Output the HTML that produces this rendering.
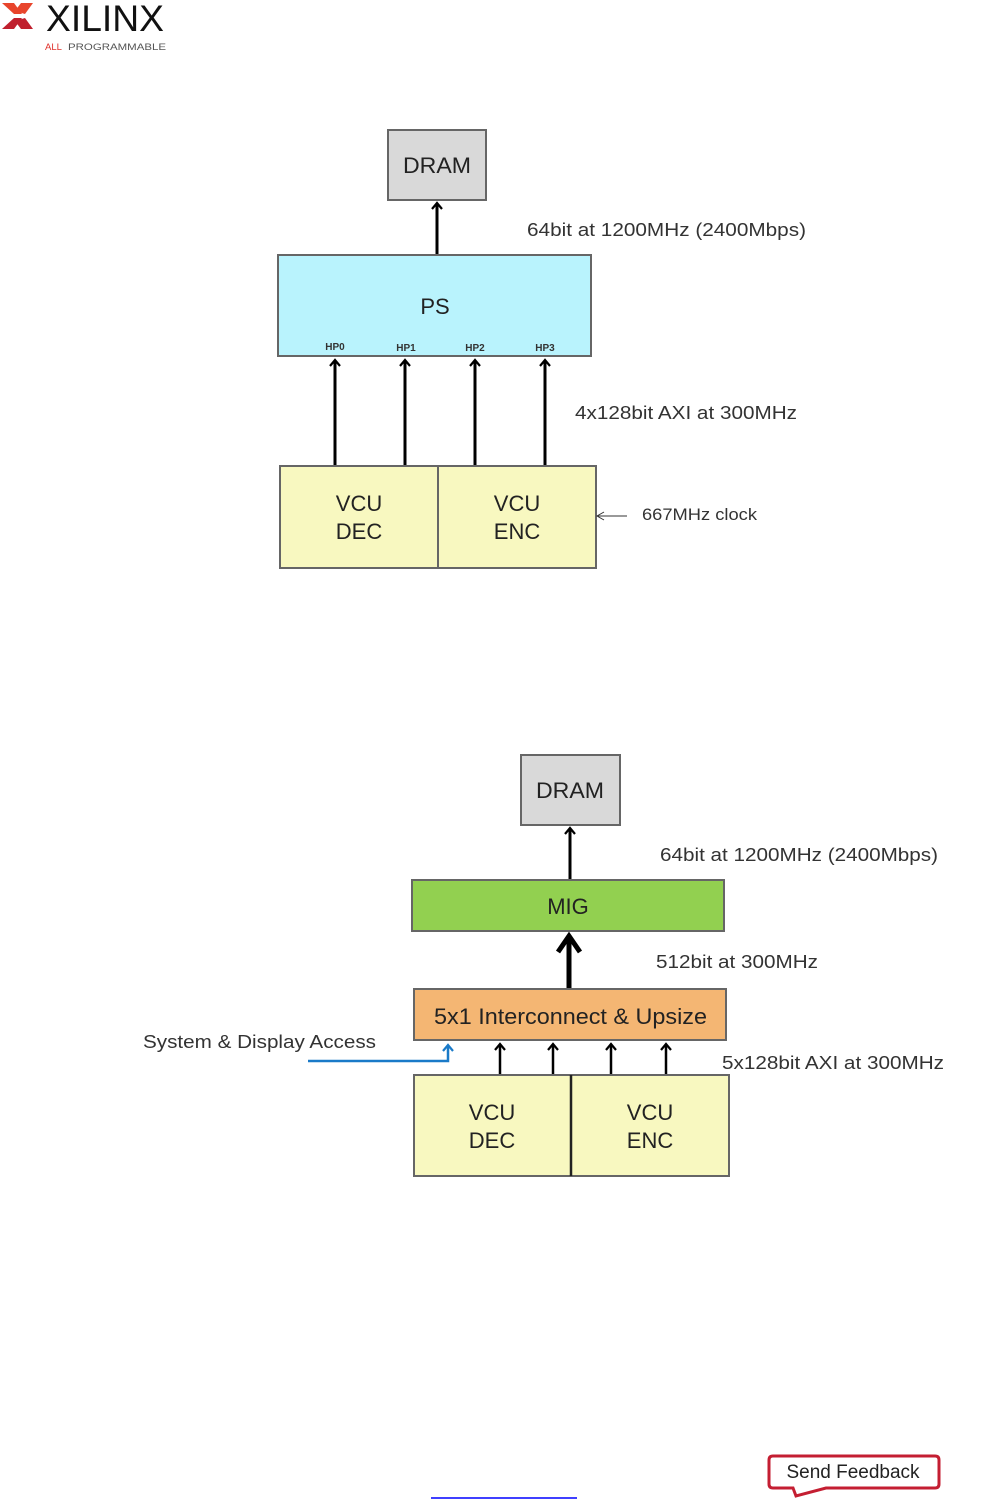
<!DOCTYPE html>
<html><head><meta charset="utf-8"><style>
html,body{margin:0;padding:0;background:#fff;}
svg{display:block;}
text{font-family:"Liberation Sans",sans-serif;}
</style></head><body>
<svg width="1008" height="1510" viewBox="0 0 1008 1510" xmlns="http://www.w3.org/2000/svg">
<defs>
<marker id="ah" markerWidth="12" markerHeight="12" refX="10" refY="6" orient="auto" markerUnits="userSpaceOnUse" viewBox="0 0 12 12">
<path d="M4,1 L10,6 L4,11" fill="none" stroke="#000" stroke-width="2.2"/></marker>
<marker id="ahb" markerWidth="12" markerHeight="12" refX="10" refY="6" orient="auto" markerUnits="userSpaceOnUse" viewBox="0 0 12 12">
<path d="M4,1 L10,6 L4,11" fill="none" stroke="#1a7ac8" stroke-width="2.2"/></marker>
</defs>
<!-- logo -->
<polygon points="2,3 14,3 22,14 14,14" fill="#e8452c"/>
<polygon points="2,29 14,29 22,18 14,18" fill="#c0202e"/>
<polygon points="33,3 21,3 15,11 25,14" fill="#e8452c"/>
<polygon points="33,29 21,29 15,21 25,18" fill="#c0202e"/>
<text x="46" y="31" font-size="37" fill="#111" textLength="118" lengthAdjust="spacingAndGlyphs">XILINX</text>
<text x="45" y="50" font-size="9.5" fill="#e0302a">ALL</text>
<text x="68" y="50" font-size="9.5" fill="#555" textLength="98" lengthAdjust="spacingAndGlyphs">PROGRAMMABLE</text>

<!-- top diagram -->
<rect x="388" y="130" width="98" height="70" fill="#d9d9d9" stroke="#666" stroke-width="2"/>
<text x="403" y="173" font-size="22" fill="#222" textLength="68" lengthAdjust="spacingAndGlyphs">DRAM</text>
<line x1="437" y1="255" x2="437" y2="203" stroke="#000" stroke-width="3" marker-end="url(#ah)"/>
<text x="527" y="236" font-size="18" fill="#333" textLength="279" lengthAdjust="spacingAndGlyphs">64bit at 1200MHz (2400Mbps)</text>
<rect x="278" y="255" width="313" height="101" fill="#b9f3fd" stroke="#666" stroke-width="2"/>
<text x="435" y="314" font-size="22" text-anchor="middle" fill="#222">PS</text>
<g font-size="10" font-weight="bold" fill="#333" text-anchor="middle">
<text x="335" y="350">HP0</text><text x="406" y="351">HP1</text><text x="475" y="351">HP2</text><text x="545" y="351">HP3</text></g>
<g stroke="#000" stroke-width="3">
<line x1="335" y1="466" x2="335" y2="360" marker-end="url(#ah)"/>
<line x1="405" y1="466" x2="405" y2="360" marker-end="url(#ah)"/>
<line x1="475" y1="466" x2="475" y2="360" marker-end="url(#ah)"/>
<line x1="545" y1="466" x2="545" y2="360" marker-end="url(#ah)"/>
</g>
<text x="575" y="419" font-size="18" fill="#333" textLength="222" lengthAdjust="spacingAndGlyphs">4x128bit AXI at 300MHz</text>
<rect x="280" y="466" width="158" height="102" fill="#f8f8c0" stroke="#666" stroke-width="2"/>
<rect x="438" y="466" width="158" height="102" fill="#f8f8c0" stroke="#666" stroke-width="2"/>
<g font-size="22" fill="#222" text-anchor="middle">
<text x="359" y="511">VCU</text><text x="359" y="539">DEC</text>
<text x="517" y="511">VCU</text><text x="517" y="539">ENC</text></g>
<line x1="627" y1="516" x2="598" y2="516" stroke="#333" stroke-width="1"/>
<path d="M604,512 L597,516 L604,520" fill="none" stroke="#333" stroke-width="1"/>
<text x="642" y="520" font-size="17" fill="#333" textLength="115" lengthAdjust="spacingAndGlyphs">667MHz clock</text>

<!-- bottom diagram -->
<rect x="521" y="755" width="99" height="70" fill="#d9d9d9" stroke="#666" stroke-width="2"/>
<text x="536" y="798" font-size="22" fill="#222" textLength="68" lengthAdjust="spacingAndGlyphs">DRAM</text>
<line x1="570" y1="880" x2="570" y2="828" stroke="#000" stroke-width="3" marker-end="url(#ah)"/>
<text x="660" y="861" font-size="18" fill="#333" textLength="278" lengthAdjust="spacingAndGlyphs">64bit at 1200MHz (2400Mbps)</text>
<rect x="412" y="880" width="312" height="51" fill="#92d050" stroke="#666" stroke-width="2"/>
<text x="568" y="914" font-size="22" text-anchor="middle" fill="#222">MIG</text>
<line x1="569" y1="989" x2="569" y2="937" stroke="#000" stroke-width="5"/>
<path d="M558,952 L569,936 L580,952" fill="none" stroke="#000" stroke-width="5"/>
<text x="656" y="968" font-size="18" fill="#333" textLength="162" lengthAdjust="spacingAndGlyphs">512bit at 300MHz</text>
<rect x="414" y="989" width="312" height="51" fill="#f4b673" stroke="#666" stroke-width="2"/>
<text x="434" y="1024" font-size="22" fill="#222" textLength="273" lengthAdjust="spacingAndGlyphs">5x1 Interconnect &amp; Upsize</text>
<g stroke="#000" stroke-width="2.5">
<line x1="500" y1="1075" x2="500" y2="1044" marker-end="url(#ah)"/>
<line x1="553" y1="1075" x2="553" y2="1044" marker-end="url(#ah)"/>
<line x1="611" y1="1075" x2="611" y2="1044" marker-end="url(#ah)"/>
<line x1="666" y1="1075" x2="666" y2="1044" marker-end="url(#ah)"/>
</g>
<polyline points="308,1061 448,1061 448,1045" fill="none" stroke="#1a7ac8" stroke-width="2.5" marker-end="url(#ahb)"/>
<text x="143" y="1048" font-size="18" fill="#333" textLength="233" lengthAdjust="spacingAndGlyphs">System &amp; Display Access</text>
<text x="722" y="1069" font-size="18" fill="#333" textLength="222" lengthAdjust="spacingAndGlyphs">5x128bit AXI at 300MHz</text>
<rect x="414" y="1075" width="157" height="101" fill="#f8f8c0" stroke="#666" stroke-width="2"/>
<rect x="571" y="1075" width="158" height="101" fill="#f8f8c0" stroke="#666" stroke-width="2"/>
<line x1="571" y1="1075" x2="571" y2="1176" stroke="#222" stroke-width="2.5"/>
<g font-size="22" fill="#222" text-anchor="middle">
<text x="492" y="1120">VCU</text><text x="492" y="1148">DEC</text>
<text x="650" y="1120">VCU</text><text x="650" y="1148">ENC</text></g>

<!-- footer -->
<line x1="431" y1="1498" x2="577" y2="1498" stroke="#00f" stroke-width="1.5"/>
<path d="M773,1456 H935 Q939,1456 939,1460 V1484 Q939,1488 935,1488 H826 L796,1496 L793,1488 H773 Q769,1488 769,1484 V1460 Q769,1456 773,1456 Z" fill="#fff" stroke="#c41e32" stroke-width="3"/>
<text x="853" y="1478" font-size="19" text-anchor="middle" fill="#222">Send Feedback</text>
</svg>
</body></html>
